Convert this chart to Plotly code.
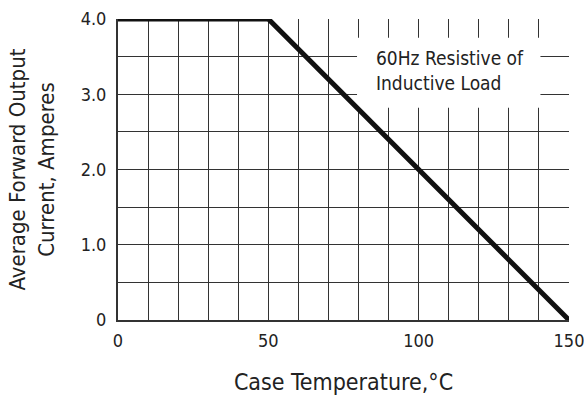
import plotly.graph_objects as go

temp_c = [0, 50, 150]
current_a = [4.0, 4.0, 0.0]
x_ticks = [0, 50, 100, 150]
x_labels = ["0", "50", "100", "150"]
y_ticks = [0, 1, 2, 3, 4]
y_labels = ["0", "1.0", "2.0", "3.0", "4.0"]

FONT = "Liberation Sans Narrow, DejaVu Sans Condensed, sans-serif"

fig = go.Figure()
fig.add_trace(go.Scatter(x=temp_c, y=current_a, mode="lines",
                         line=dict(color="#111111", width=5), showlegend=False))

fig.add_shape(type="rect", x0=79.5, x1=140.5, y0=2.82, y1=3.75,
              fillcolor="white", line=dict(width=0), layer="between")
fig.add_annotation(x=85.0, y=3.31, xanchor="left", yanchor="middle", align="left",
                   text="60Hz Resistive of<br>Inductive Load", showarrow=False,
                   font=dict(family=FONT, size=19, color="#222222"))

fig.update_layout(
    width=584, height=396,
    margin=dict(l=118, r=15, t=19, b=76),
    paper_bgcolor="white", plot_bgcolor="white",
    font=dict(family=FONT, color="#222222"),
    xaxis=dict(range=[0, 150], tickvals=x_ticks, ticktext=x_labels, automargin=False,
               showgrid=False, zeroline=False, showline=True, linecolor="#333333", linewidth=2,
               ticks="", tickfont=dict(size=18, family=FONT), ticklabelstandoff=3,
               ticklabeloverflow="allow",
               minor=dict(dtick=10, showgrid=True, gridcolor="#333333", gridwidth=1.3),
               title=dict(text="Case Temperature,°C", font=dict(size=23, family=FONT), standoff=24)),
    yaxis=dict(range=[0, 4], tickvals=y_ticks, ticktext=y_labels, automargin=False,
               showgrid=True, gridcolor="#333333", gridwidth=1.3,
               zeroline=False, showline=True, linecolor="#333333", linewidth=2,
               ticks="", tickfont=dict(size=18, family=FONT), ticklabelstandoff=6,
               minor=dict(dtick=0.5, showgrid=True, gridcolor="#333333", gridwidth=1.3),
               title=dict(text="Average Forward Output<br>Current, Amperes",
                          font=dict(size=22, family=FONT), standoff=20)),
)

fig.write_html("out.html")
